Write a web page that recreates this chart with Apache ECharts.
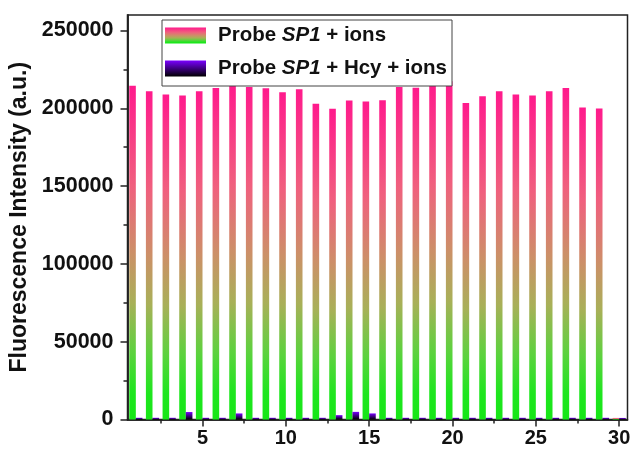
<!DOCTYPE html>
<html>
<head>
<meta charset="utf-8">
<script src="https://cdn.jsdelivr.net/npm/echarts@6/dist/echarts.min.js"></script>
<style>
html,body{margin:0;padding:0;background:#fff;}
#c{width:633px;height:452px;}
</style>
</head>
<body>
<div id="c"></div>
<script>
// Data
const positions = [1,2,3,4,5,6,7,8,9,10,11,12,13,14,15,16,17,18,19,20,21,22,23,24,25,26,27,28,29,30];
const probeIons = [214600,211000,208900,208200,211000,213100,215900,213700,212900,210400,212300,202900,199700,205000,204400,205200,213700,213300,216100,217400,203500,207800,211000,208900,208200,211000,213100,200600,199900,1000];
const probeHcyIons = [1100,1100,1100,4800,1100,1100,3900,1100,1100,1100,1100,1100,2800,4900,3900,1100,1100,1100,1100,1100,1100,1100,1100,1100,1100,1100,1100,1100,1100,1000];
const xMajorTicks = [5,10,15,20,25,30];
const xMinorTicks = [2.5,7.5,12.5,17.5,22.5,27.5];
const yMajorTicks = [0,50000,100000,150000,200000,250000];
const yMinorTicks = [25000,75000,125000,175000,225000];
const seriesNames = ['Probe SP1 + ions','Probe SP1 + Hcy + ions'];

const FONT = 'Liberation Sans, Arial, sans-serif';
const chart = echarts.init(document.getElementById('c'), null, {renderer:'canvas'});

const pinkGrad = new echarts.graphic.LinearGradient(0,0,0,1,[
  {offset:0, color:'#ff1a8c'},
  {offset:0.3, color:'#f0607e'},
  {offset:0.5, color:'#cc9068'},
  {offset:0.65, color:'#a8b058'},
  {offset:0.8, color:'#5cd23e'},
  {offset:0.92, color:'#1ee61e'},
  {offset:1, color:'#16e616'}
]);
const purpleGrad = new echarts.graphic.LinearGradient(0,0,0,1,[
  {offset:0, color:'#7a00ff'},
  {offset:0.5, color:'#3d0080'},
  {offset:1, color:'#000000'}
]);

const axisLine = {show:true, lineStyle:{color:'#222', width:1.5}};
const labelStyle = {color:'#111', fontFamily:FONT, fontWeight:'bold', fontSize:20};
const plain = v => String(v);

chart.setOption({
  animation:false,
  backgroundColor:'#fff',
  grid:{left:127.5, right:5.5, top:15, bottom:32.5, show:true, borderColor:'#222', borderWidth:1.5, containLabel:false, outerBoundsMode:'none'},
  legend:{
    orient:'vertical',
    left:162, top:20,
    data:seriesNames,
    icon:'rect',
    itemWidth:41, itemHeight:16, itemGap:12,
    padding:[5,5,7,3],
    borderColor:'#444', borderWidth:1, backgroundColor:'#fff',
    selectedMode:false,
    formatter:function(name){
      if(name===seriesNames[0]) return '{b|Probe }{i|SP1}{b| + ions}';
      return '{b|Probe }{i|SP1}{b| + Hcy + ions}';
    },
    textStyle:{
      padding:[0,0,0,7],
      rich:{
        b:{fontFamily:FONT, fontWeight:'bold', fontSize:20.5, color:'#111', lineHeight:16},
        i:{fontFamily:FONT, fontWeight:'bold', fontStyle:'italic', fontSize:20.5, color:'#111', lineHeight:16}
      }
    }
  },
  xAxis:[
    {
      type:'value', min:0.5, max:30.5,
      axisLine:axisLine,
      splitLine:{show:false},
      axisTick:{show:true, inside:false, length:7, lineStyle:{color:'#222', width:1.5}, customValues:xMajorTicks},
      axisLabel:Object.assign({margin:9, customValues:xMajorTicks, formatter:plain}, labelStyle)
    },
    {
      type:'value', min:0.5, max:30.5, position:'bottom',
      axisLine:axisLine,
      splitLine:{show:false},
      axisTick:{show:true, inside:false, length:4, lineStyle:{color:'#222', width:1.5}, customValues:xMinorTicks},
      axisLabel:{show:false, customValues:xMinorTicks}
    }
  ],
  yAxis:[
    {
      type:'value', min:0, max:260000,
      axisLine:axisLine,
      splitLine:{show:false},
      axisTick:{show:true, inside:false, length:7, lineStyle:{color:'#222', width:1.5}, customValues:yMajorTicks},
      axisLabel:Object.assign({}, labelStyle, {margin:14, fontSize:21.5, customValues:yMajorTicks, formatter:plain}),
      name:'Fluorescence Intensity (a.u.)',
      nameLocation:'middle',
      nameGap:95,
      nameTextStyle:{color:'#111', fontFamily:FONT, fontWeight:'bold', fontSize:23}
    },
    {
      type:'value', min:0, max:260000, position:'left',
      axisLine:axisLine,
      splitLine:{show:false},
      axisTick:{show:true, inside:false, length:4, lineStyle:{color:'#222', width:1.5}, customValues:yMinorTicks},
      axisLabel:{show:false, customValues:yMinorTicks}
    }
  ],
  series:[
    {
      name:seriesNames[0], type:'bar', xAxisIndex:0, yAxisIndex:0,
      barWidth:6.6, barGap:'0%',
      itemStyle:{color:pinkGrad},
      data:positions.map((p,i)=>[p, probeIons[i]])
    },
    {
      name:seriesNames[1], type:'bar', xAxisIndex:0, yAxisIndex:0,
      barWidth:6.6, barGap:'0%',
      itemStyle:{color:purpleGrad},
      data:positions.map((p,i)=>[p, probeHcyIons[i]])
    }
  ]
});
</script>
</body>
</html>
